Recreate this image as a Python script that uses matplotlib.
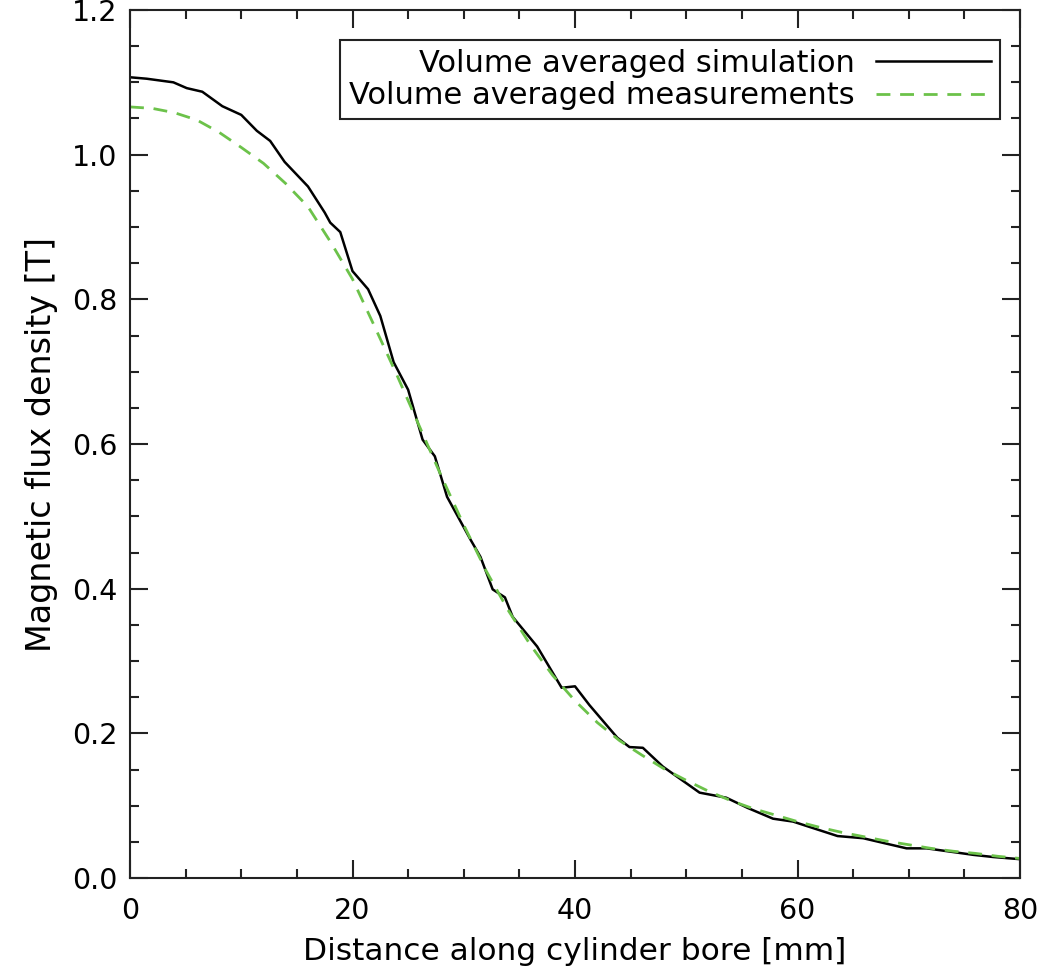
import matplotlib
matplotlib.use("Agg")
import matplotlib.pyplot as plt
from matplotlib.ticker import MultipleLocator, FormatStrFormatter

# Simulation (black solid)
sim_x = [0.0, 1.5, 3.9, 5.1, 6.5, 8.3, 10.0, 11.4, 12.6, 13.9, 16.0, 17.5, 18.0, 18.9,
         20.0, 21.4, 22.5, 23.7, 25.0, 26.3, 27.4, 28.5, 30.6, 31.5, 32.6, 33.7, 34.4,
         36.6, 38.8, 40.0, 41.3, 43.8, 44.9, 46.1, 47.9, 51.2, 53.6, 55.5, 57.8, 59.6,
         63.6, 65.9, 69.8, 71.6, 75.8, 77.6, 80.0]
sim_y = [1.107, 1.105, 1.100, 1.092, 1.087, 1.067, 1.055, 1.033, 1.019, 0.990, 0.956,
         0.920, 0.906, 0.893, 0.839, 0.814, 0.777, 0.713, 0.675, 0.606, 0.583, 0.527,
         0.468, 0.444, 0.399, 0.388, 0.361, 0.320, 0.263, 0.265, 0.239, 0.194, 0.181,
         0.180, 0.154, 0.118, 0.111, 0.097, 0.082, 0.078, 0.058, 0.055, 0.041, 0.041,
         0.032, 0.029, 0.026]

# Measurements (green dashed)
meas_x = [0, 2, 4, 6, 8, 10, 12, 14, 16, 18, 20, 22, 24, 26, 28, 30, 32, 34, 36, 38, 40,
          42, 44, 46, 48, 50, 52, 54, 56, 58, 60, 62, 64, 66, 68, 70, 72, 74, 76, 78, 80]
meas_y = [1.066, 1.064, 1.058, 1.048, 1.031, 1.010, 0.988, 0.960, 0.928, 0.880, 0.828,
          0.762, 0.695, 0.625, 0.555, 0.488, 0.425, 0.370, 0.322, 0.280, 0.245, 0.215,
          0.190, 0.170, 0.151, 0.135, 0.120, 0.107, 0.096, 0.087, 0.078, 0.070, 0.063,
          0.057, 0.051, 0.046, 0.041, 0.037, 0.034, 0.030, 0.027]

labels = ["Volume averaged simulation", "Volume averaged measurements"]
xlabel = "Distance along cylinder bore [mm]"
ylabel = "Magnetic flux density [T]"

plt.rcParams['font.family'] = ['DejaVu Sans']

fig = plt.figure(figsize=(10.56, 9.73), dpi=100)
ax = fig.add_axes([130/1056, (973-878)/973, 890/1056, 868/973])

ax.plot(sim_x, sim_y, color='black', lw=1.8, label=labels[0])
ax.plot(meas_x, meas_y, color='#6cc24a', lw=2.0, linestyle=(0, (5, 3.5)), label=labels[1])

ax.set_xlim(0, 80)
ax.set_ylim(0, 1.2)
ax.xaxis.set_major_locator(MultipleLocator(20))
ax.xaxis.set_minor_locator(MultipleLocator(5))
ax.yaxis.set_major_locator(MultipleLocator(0.2))
ax.yaxis.set_minor_locator(MultipleLocator(0.05))
ax.yaxis.set_major_formatter(FormatStrFormatter('%.1f'))

ax.tick_params(which='both', direction='in', top=True, right=True, width=1.5,
               color='#222222', labelsize=20.5)
ax.tick_params(which='major', length=13)
ax.tick_params(which='minor', length=6.5)
ax.tick_params(axis='x', which='major', pad=14)
ax.tick_params(axis='y', which='major', pad=9)
for s in ax.spines.values():
    s.set_linewidth(1.5)
    s.set_color('#222222')

ax.set_xlabel(xlabel, fontsize=22.5, labelpad=8)
ax.set_ylabel(ylabel, fontsize=24, labelpad=10)

leg = ax.legend(loc='upper right', bbox_to_anchor=((1000-130)/890, (878-40)/868),
                borderaxespad=0, markerfirst=False, fancybox=False, framealpha=1,
                edgecolor='#222222', fontsize=22, handlelength=3.75, handletextpad=0.7,
                labelspacing=0.1, borderpad=0.3)
leg.get_frame().set_linewidth(1.5)

fig.savefig('out.png', dpi=100)
